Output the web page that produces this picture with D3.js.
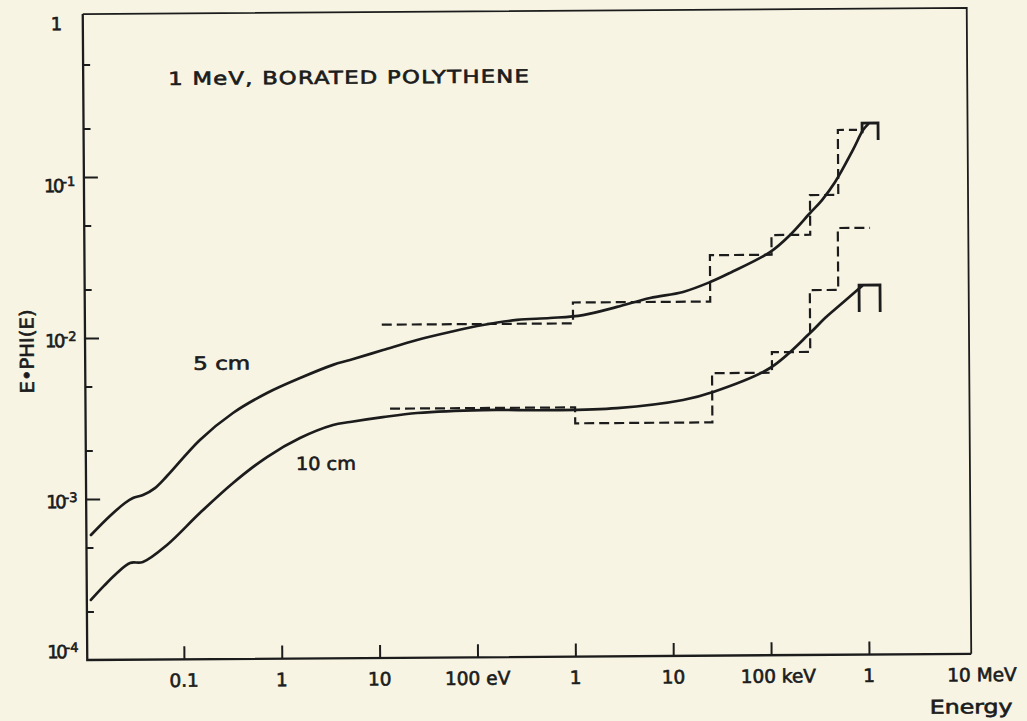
<!DOCTYPE html>
<html>
<head>
<meta charset="utf-8">
<script src="https://cdn.jsdelivr.net/npm/d3@7"></script>
<style>
  html, body { margin: 0; padding: 0; background: #f7f4e4; }
  svg { display: block; }
  text { font-family: "DejaVu Sans", sans-serif; fill: #1c1c1c; stroke: #1c1c1c; stroke-width: 0.65px; }
</style>
</head>
<body>
<svg id="chart" width="1027" height="721"></svg>
<script>
// ---- Energy spectra behind 1 MeV source, borated polythene (energy in eV) ----

// 5 cm thickness, smooth calculation
const energy5cm = [0.01146, 0.01795, 0.02565, 0.03097, 0.0392, 0.052, 0.0692, 0.151, 0.33, 0.738,
  1.61, 3.5, 5.22, 11.4, 25.4, 55.2, 120, 268, 582, 1265, 2825, 6150, 13370, 25300, 40500,
  104200, 167500, 269000, 357000, 487000, 743000, 948000, 1070000];
const flux5cm = [5.97e-4, 7.82e-4, 9.40e-4, 1.010e-3, 1.052e-3, 1.161e-3, 1.377e-3, 2.30e-3, 3.37e-3, 4.47e-3,
  5.52e-3, 6.64e-3, 7.11e-3, 8.17e-3, 9.40e-3, 1.050e-2, 1.157e-2, 1.240e-2, 1.270e-2, 1.321e-2, 1.479e-2,
  1.674e-2, 1.82e-2, 2.09e-2, 2.38e-2, 3.19e-2, 4.07e-2, 5.56e-2, 6.68e-2, 8.63e-2, 0.136, 0.181, 0.197];

// 10 cm thickness, smooth calculation
const energy10cm = [0.01132, 0.01542, 0.021, 0.0286, 0.0387, 0.0684, 0.149, 0.327, 0.73, 1.59,
  3.47, 5.18, 11.2, 25.1, 119, 574, 2775, 13120, 26600, 102300, 263600, 376000, 536000, 765000, 904000];
const flux10cm = [2.36e-4, 2.88e-4, 3.46e-4, 3.99e-4, 4.04e-4, 5.14e-4, 8.09e-4, 1.239e-3, 1.79e-3, 2.34e-3,
  2.81e-3, 2.93e-3, 3.13e-3, 3.31e-3, 3.43e-3, 3.40e-3, 3.48e-3, 3.88e-3, 4.34e-3, 6.08e-3, 9.98e-3,
  1.236e-2, 1.486e-2, 1.787e-2, 1.946e-2];

// source bin at the top end of each smooth curve
const sourceBin5Energy = [927000, 927000, 1350000, 1350000];
const sourceBin5Flux = [0.173, 0.200, 0.200, 0.157];
const sourceBin10Energy = [841000, 841000, 1377000, 1377000];
const sourceBin10Flux = [0.01343, 0.0197, 0.0197, 0.0134];

// group-wise (histogram) results, bin edges and bin values
const histEdges5cm = [11.1, 1000, 25300, 108000, 269000, 524000, 823000];
const histFlux5cm = [0.01174, 0.01582, 0.0307, 0.0407, 0.0718, 0.1816];
const histEdges10cm = [13.3, 1035, 26100, 107000, 264000, 515000, 1100000];
const histFlux10cm = [3.53e-3, 2.81e-3, 5.68e-3, 7.62e-3, 1.845e-2, 4.47e-2];

// axes
const xTickValues = [0.1, 1, 10, 100, 1e3, 1e4, 1e5, 1e6, 1e7];
const xTickLabels = ["0.1", "1", "10", "100 eV", "1", "10", "100 keV", "1", "10 MeV"];
const yTickValues = [1, 1e-1, 1e-2, 1e-3, 1e-4];
const yTickBase = ["1", "10", "10", "10", "10"];
const yTickExp = ["", "-1", "-2", "-3", "-4"];
const yMinorTicks = [0.5, 0.2, 0.05, 0.02, 0.005, 0.002, 5e-4, 2e-4];

const titleText = "1 MeV, BORATED POLYTHENE";
const yAxisTitle = "E\u2022PHI(E)";
const xAxisTitle = "Energy";
const seriesLabels = ["5 cm", "10 cm"];

// ---- drawing ----
const ink = "#1c1c1c";
const svg = d3.select("#chart");
svg.append("rect").attr("width", 1027).attr("height", 721).attr("fill", "#f7f4e4");

// the sheet sits very slightly turned on the page
const g = svg.append("g").attr("transform", "rotate(-0.4,527,335)");

const x = d3.scaleLog().domain([1e-2, 1e7]).range([83.8, 964.6]);
const y = d3.scaleLog().domain([1e-4, 1]).range([656.9, 12.9]);

const frameLeft = 85, frameRight = 969, frameTop = 11, frameBottom = y(1e-4);

// frame
g.append("path")
  .attr("d", `M${frameLeft},${frameTop}H${frameRight}V${frameBottom}`)
  .attr("fill", "none").attr("stroke", ink).attr("stroke-width", 1.8);
g.append("path")
  .attr("d", `M${frameLeft},${frameTop}V${frameBottom}H${frameRight}`)
  .attr("fill", "none").attr("stroke", ink).attr("stroke-width", 2.3);

// y ticks (inside, on the left edge)
const yMajor = d3.axisRight(y).tickValues(yTickValues.slice(1, 4)).tickSize(14).tickFormat("");
const yMinor = d3.axisRight(y).tickValues(yMinorTicks).tickSize(7).tickFormat("");
[yMajor, yMinor].forEach(ax => {
  const a = g.append("g").attr("transform", `translate(${frameLeft},0)`).call(ax);
  a.select(".domain").remove();
  a.selectAll("line").attr("stroke", ink).attr("stroke-width", 2);
});

// x ticks (inside, on the bottom edge)
const xAx = g.append("g").attr("transform", `translate(0,${frameBottom})`)
  .call(d3.axisTop(x).tickValues(xTickValues.slice(0, 8)).tickSize(13).tickFormat(""));
xAx.select(".domain").remove();
xAx.selectAll("line").attr("stroke", ink).attr("stroke-width", 2);

// x tick labels
const xLabelShift = [0, 0, 0, 0, 0, 0, 7, 0, 15];
xTickValues.forEach((v, i) => {
  g.append("text")
    .attr("x", x(v) + xLabelShift[i])
    .attr("y", frameBottom + 27.5)
    .attr("text-anchor", "middle")
    .attr("font-size", 18.5)
    .text(xTickLabels[i]);
});

// y tick labels with exponents
const yLabelNudge = [14, 15, 9, 9, -2];
yTickValues.forEach((v, i) => {
  const t = g.append("text")
    .attr("y", y(v) + yLabelNudge[i])
    .attr("font-size", 18);
  if (yTickExp[i] === "") {
    t.attr("x", 53).text(yTickBase[i]);
  } else {
    t.attr("x", 45);
    t.append("tspan").attr("letter-spacing", -2.5).text(yTickBase[i]);
    t.append("tspan").attr("font-size", 13).attr("dy", -6).attr("dx", 0.5).text(yTickExp[i]);
  }
});

// axis titles
g.append("text")
  .attr("transform", "translate(33.5,348) rotate(-90)")
  .attr("text-anchor", "middle")
  .attr("font-size", 19)
  .attr("textLength", 84).attr("lengthAdjust", "spacingAndGlyphs")
  .text(yAxisTitle);
g.append("text")
  .attr("x", 927).attr("y", 716.5)
  .attr("font-size", 19)
  .attr("textLength", 83).attr("lengthAdjust", "spacingAndGlyphs")
  .text(xAxisTitle);

// title and curve labels
g.append("text")
  .attr("x", 170).attr("y", 82.5)
  .attr("font-size", 18)
  .attr("letter-spacing", 1)
  .attr("textLength", 362).attr("lengthAdjust", "spacingAndGlyphs")
  .text(titleText);
g.append("text").attr("x", 193).attr("y", 367.5).attr("font-size", 18)
  .attr("textLength", 57).attr("lengthAdjust", "spacingAndGlyphs").text(seriesLabels[0]);
g.append("text").attr("x", 295).attr("y", 468.5).attr("font-size", 18)
  .attr("textLength", 60).attr("lengthAdjust", "spacingAndGlyphs").text(seriesLabels[1]);

// line generators
const pairs = (a, b) => a.map((v, i) => [v, b[i]]);
const smooth = d3.line().x(d => x(d[0])).y(d => y(d[1])).curve(d3.curveCatmullRom.alpha(0.5));
const straight = d3.line().x(d => x(d[0])).y(d => y(d[1]));
const stepped = d3.line().x(d => x(d[0])).y(d => y(d[1])).curve(d3.curveStepAfter);
const stepPoints = (edges, vals) => {
  const p = vals.map((v, i) => [edges[i], v]);
  p.push([edges[edges.length - 1], vals[vals.length - 1]]);
  return p;
};

// histograms (dashed)
[[histEdges5cm, histFlux5cm], [histEdges10cm, histFlux10cm]].forEach(([e, f]) => {
  g.append("path")
    .attr("d", stepped(stepPoints(e, f)))
    .attr("fill", "none").attr("stroke", ink)
    .attr("stroke-width", 2.2).attr("stroke-dasharray", "10,5");
});

// smooth curves
[[energy5cm, flux5cm], [energy10cm, flux10cm]].forEach(([e, f]) => {
  g.append("path")
    .attr("d", smooth(pairs(e, f)))
    .attr("fill", "none").attr("stroke", ink)
    .attr("stroke-width", 2.7).attr("stroke-linejoin", "round").attr("stroke-linecap", "round");
});

// source bins
[[sourceBin5Energy, sourceBin5Flux], [sourceBin10Energy, sourceBin10Flux]].forEach(([e, f]) => {
  g.append("path")
    .attr("d", straight(pairs(e, f)))
    .attr("fill", "none").attr("stroke", ink).attr("stroke-width", 2.8);
});
</script>
</body>
</html>
